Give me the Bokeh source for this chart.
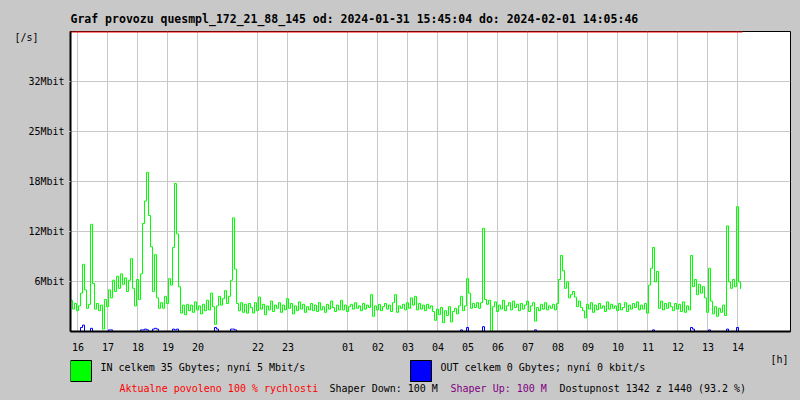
from bokeh.plotting import figure
from bokeh.layouts import column
from bokeh.models import FixedTicker, Range1d, LinearAxis
from bokeh.core.properties import value
from bokeh.embed import file_html
from bokeh.resources import INLINE

# ---------------- data ----------------
TITLE = "Graf provozu quesmpl_172_21_88_145 od: 2024-01-31 15:45:04 do: 2024-02-01 14:05:46"
START_HOUR = 15 + 45 / 60 + 4 / 3600      # 2024-01-31 15:45:04, hours since 2024-01-31 00:00
STEP_MIN = 4                              # one sample every 4 minutes

# IN traffic [Mbit/s], one row per hour starting at 15:45
in_mbit = [
    3.9, 2.8, 3.5, 2.6, 3.2, 4.8, 8.4, 5.2, 2.9, 3.4, 13.4, 6.0, 2.8, 3.5, 2.6,    # 15:45
    3.3, 0.3, 4.0, 3.1, 5.2, 4.2, 6.4, 5.0, 6.9, 5.4, 7.2, 5.9, 6.7, 5.0, 6.4,     # 16:45
    9.1, 5.4, 3.2, 6.5, 4.0, 7.2, 13.5, 16.3, 19.9, 14.5, 10.6, 5.0, 9.6, 4.2, 2.9,  # 17:45
    3.6, 2.9, 4.4, 3.5, 6.6, 5.8, 10.5, 18.5, 12.2, 5.6, 2.3, 3.3, 2.1, 3.4, 2.6,  # 18:45
    3.3, 2.4, 3.7, 2.7, 3.2, 2.2, 3.4, 2.6, 3.9, 2.7, 4.8, 3.1, 0.9, 3.2, 4.4,     # 19:45
    3.3, 4.1, 5.1, 3.5, 4.4, 6.4, 14.2, 7.8, 3.5, 2.6, 3.6, 2.4, 3.4, 2.3, 3.5,    # 20:45
    3.0, 2.3, 3.6, 2.6, 4.3, 2.8, 3.4, 2.1, 3.2, 2.7, 3.8, 2.5, 3.3, 2.9, 3.6,     # 21:45
    2.4, 3.3, 2.7, 4.1, 2.9, 3.5, 2.2, 3.2, 2.6, 3.7, 2.8, 3.4, 2.4, 3.1, 2.7,     # 22:45
    3.5, 2.6, 3.3, 2.5, 3.6, 2.7, 3.1, 2.4, 3.4, 2.8, 3.8, 3.0, 2.5, 3.3, 2.7,     # 23:45
    3.9, 2.7, 3.3, 2.5, 3.1, 3.4, 2.8, 3.6, 2.9, 3.2, 2.6, 3.5, 2.8, 3.3, 3.0,     # 00:45
    4.6, 1.9, 3.2, 2.7, 3.4, 2.6, 3.1, 3.5, 2.8, 3.3, 2.5, 3.6, 4.6, 2.4, 3.2,     # 01:45
    2.9, 3.4, 2.7, 3.6, 2.9, 4.2, 3.3, 4.4, 2.7, 3.5, 2.8, 3.3, 2.6, 3.4, 2.9,     # 02:45
    3.2, 2.5, 1.4, 2.8, 2.1, 3.0, 1.1, 2.6, 2.0, 3.1, 1.2, 2.5, 2.9, 2.2, 3.2,     # 03:45
    4.4, 2.6, 3.2, 6.6, 4.8, 2.9, 3.5, 3.0, 3.6, 2.9, 3.6, 12.9, 4.0, 3.4, 3.9,    # 04:45
    0.0, 3.1, 3.7, 2.5, 3.3, 2.8, 3.9, 2.6, 3.2, 3.6, 2.7, 3.8, 3.0, 3.4, 2.6,     # 05:45
    3.5, 2.8, 3.3, 3.8, 2.5, 3.2, 3.6, 1.3, 3.0, 2.6, 3.4, 2.8, 3.6, 2.7, 3.2,     # 06:45
    2.9, 3.4, 2.7, 3.5, 6.5, 9.5, 7.6, 5.4, 6.2, 4.2, 4.6, 5.0, 4.3, 3.1, 3.8,     # 07:45
    3.0, 2.6, 1.7, 3.4, 2.8, 3.6, 2.4, 3.3, 2.7, 3.5, 2.9, 3.2, 2.5, 3.7, 2.8,     # 08:45
    3.4, 2.9, 3.2, 2.6, 3.5, 2.7, 3.0, 3.6, 2.5, 3.3, 2.8, 3.5, 3.0, 3.7, 2.7,     # 09:45
    3.3, 2.8, 3.5, 2.3, 5.8, 7.9, 10.5, 6.2, 7.5, 2.9, 3.8, 2.7, 3.5, 2.9, 3.6,    # 10:45
    3.1, 2.6, 3.5, 2.8, 3.4, 2.5, 3.7, 2.4, 3.2, 2.7, 9.5, 5.6, 6.5, 4.6, 5.9,     # 11:45
    4.8, 5.6, 4.2, 2.4, 7.9, 3.8, 2.2, 3.1, 1.9, 2.9, 2.4, 3.3, 2.0, 13.2, 6.2,    # 12:45
    5.4, 6.5, 5.6, 15.6, 6.2, 5.3,                                                 # 13:45
]

# OUT traffic [Mbit/s]
out_mbit = [
    0, 0, 0, 0, 0, 0.5, 0.8, 0, 0, 0, 0.4, 0, 0, 0, 0,
    0, 0, 0, 0, 0.2, 0.2, 0, 0, 0, 0, 0, 0, 0, 0, 0,
    0, 0, 0, 0, 0, 0.2, 0.2, 0.3, 0.2, 0, 0, 0.3, 0.4, 0.3, 0,
    0, 0, 0, 0, 0, 0, 0.3, 0.2, 0.3, 0, 0, 0, 0, 0, 0,
    0, 0, 0, 0, 0, 0, 0, 0, 0, 0, 0, 0, 0.5, 0.3, 0,
    0, 0, 0, 0, 0, 0.3, 0.3, 0.2, 0, 0, 0, 0, 0, 0, 0,
    0, 0, 0, 0, 0, 0, 0, 0, 0, 0, 0, 0, 0, 0, 0,
    0, 0, 0, 0, 0, 0, 0, 0, 0, 0, 0, 0, 0, 0, 0,
    0, 0, 0, 0, 0, 0, 0, 0, 0, 0, 0, 0, 0, 0, 0,
    0, 0, 0, 0, 0, 0, 0, 0, 0, 0, 0, 0, 0, 0, 0,
    0, 0, 0, 0, 0, 0, 0, 0, 0, 0, 0, 0, 0, 0, 0,
    0, 0, 0, 0, 0, 0, 0, 0, 0, 0, 0, 0, 0, 0, 0,
    0, 0, 0, 0, 0, 0, 0, 0, 0, 0, 0, 0, 0, 0, 0,
    0.2, 0, 0, 0.5, 0, 0, 0, 0, 0, 0, 0, 0.6, 0, 0, 0,
    0, 0, 0, 0, 0, 0, 0, 0, 0, 0, 0, 0, 0, 0, 0,
    0, 0, 0, 0, 0, 0, 0, 0.2, 0, 0, 0, 0, 0, 0, 0,
    0, 0, 0, 0, 0, 0, 0, 0, 0, 0, 0, 0, 0, 0, 0,
    0, 0, 0, 0, 0, 0, 0, 0, 0, 0, 0, 0, 0, 0, 0,
    0, 0, 0, 0, 0, 0, 0, 0, 0, 0, 0, 0, 0, 0, 0,
    0, 0, 0, 0, 0, 0, 0.2, 0, 0, 0, 0, 0, 0, 0, 0,
    0, 0, 0, 0, 0, 0, 0, 0, 0, 0, 0.5, 0.3, 0, 0, 0,
    0, 0, 0, 0, 0.2, 0, 0, 0, 0, 0, 0, 0, 0, 0.3, 0,
    0, 0, 0, 0.5, 0, 0,
]

hour_ticks = [16, 17, 18, 19, 20, 22, 23, 25, 26, 27, 28, 29, 30, 31, 32, 33, 34, 35, 36, 37, 38]
hour_labels = ["16", "17", "18", "19", "20", "22", "23", "01", "02", "03", "04", "05",
               "06", "07", "08", "09", "10", "11", "12", "13", "14"]
y_ticks = [6.25, 12.5, 18.75, 25.0, 31.25]
y_labels = ["6Mbit", "12Mbit", "18Mbit", "25Mbit", "32Mbit"]
Y_TOP = 37.5
Y_UNIT_AT = 36.75          # where the "[/s]" unit label sits on the value axis
LIMIT_MBIT = 100           # shaper limit, clipped at the chart top

legend_texts = ["IN celkem 35 Gbytes; nyní 5 Mbit/s", "OUT celkem 0 Gbytes; nyní 0 kbit/s"]
legend_colors = ["#00ff00", "#0000ff"]
info_texts = ["Aktualne povoleno 100 % rychlosti", "Shaper Down: 100 M",
              "Shaper Up: 100 M", "Dostupnost 1342 z 1440 (93.2 %)"]
info_colors = ["#ff0000", "#000000", "#800080", "#000000"]

# ---------------- layout ----------------
W = 800
FL, FT, FW, FH = 70, 31, 720, 300
H_MAIN = 354
H_FOOT = 400 - H_MAIN
BG = "#c8c8c8"
GRID = "#c8c8c8"
FONT = "DejaVu Sans Mono"

t = [START_HOUR + i * STEP_MIN / 60 for i in range(len(in_mbit))]
X_START, X_END = START_HOUR, START_HOUR + FW / 30.0

p = figure(width=W, height=H_MAIN, output_backend="svg", toolbar_location=None,
           x_range=(X_START, X_END), y_range=(0, Y_TOP),
           min_border_left=FL, min_border_right=W - FL - FW,
           min_border_top=FT, min_border_bottom=H_MAIN - FT - FH)
p.border_fill_color = BG
p.background_fill_color = "white"
p.outline_line_color = "black"
p.outline_line_width = 1

p.title.text = TITLE
p.title.align = "left"
p.title.text_font = FONT
p.title.text_font_size = "11.5px"
p.title.text_font_style = "bold"
p.title.text_color = "black"
p.title.standoff = 11

xa = p.xaxis[0]
xa.ticker = FixedTicker(ticks=hour_ticks)
xa.major_label_overrides = {k: v for k, v in zip(hour_ticks, hour_labels)}
xa.minor_tick_line_color = None
xa.major_tick_out = 0
xa.major_tick_in = 0
xa.axis_line_width = 2
xa.axis_line_color = "black"
xa.major_label_standoff = 11
xa.major_label_text_font = FONT
xa.major_label_text_font_size = "10px"
xa.major_label_text_color = "black"

ya = p.yaxis[0]
ya.ticker = FixedTicker(ticks=y_ticks)
ya.major_label_overrides = {k: v for k, v in zip(y_ticks, y_labels)}
ya.minor_tick_line_color = None
ya.major_tick_out = 6
ya.major_tick_in = 0
ya.major_tick_line_color = GRID
ya.axis_line_width = 2
ya.axis_line_color = "black"
ya.major_label_standoff = 0
ya.major_label_text_font = FONT
ya.major_label_text_font_size = "10px"
ya.major_label_text_color = "black"

# unit label "[/s]" as a one-tick outer axis
ua = LinearAxis(ticker=FixedTicker(ticks=[Y_UNIT_AT]),
                major_label_overrides={Y_UNIT_AT: "[/s]"},
                axis_line_color=None, major_tick_line_color=None, minor_tick_line_color=None,
                major_tick_out=0, major_tick_in=0, major_label_standoff=-13,
                major_label_text_font=FONT, major_label_text_font_size="10px",
                major_label_text_color="black")
p.add_layout(ua, "left")

p.xgrid.grid_line_color = GRID
p.ygrid.grid_line_color = GRID
p.ygrid.ticker = FixedTicker(ticks=y_ticks)

p.step(t, in_mbit, mode="after", line_color="#00ff00", line_width=1)
p.step(t, out_mbit, mode="after", line_color="#0000ff", line_width=1)
lim = min(LIMIT_MBIT, Y_TOP)
p.line([t[0], t[-1] + STEP_MIN / 60], [lim, lim], line_color="#ff0000", line_width=2)

# ---------------- footer (hour unit, legend, info line) ----------------
q = figure(width=W, height=H_FOOT, output_backend="svg", toolbar_location=None,
           x_range=Range1d(FL, FL + FW), y_range=Range1d(H_FOOT, 0),
           x_axis_type=None, y_axis_type=None,
           min_border_left=FL, min_border_right=W - FL - FW, min_border_top=0, min_border_bottom=0)
q.border_fill_color = BG
q.background_fill_color = None
q.outline_line_color = None
q.grid.visible = False

q.text(x=[770], y=[5], text=["[h]"], text_font=value(FONT), text_font_size="10px",
       text_color="black", text_baseline="middle")
q.quad(left=[70, 410], right=[91, 431], top=[6, 6], bottom=[27, 27],
       fill_color=legend_colors, line_color="black", line_width=1)
q.text(x=[100, 440], y=[13, 13], text=legend_texts, text_font=value(FONT),
       text_font_size="10px", text_color="black", text_baseline="middle")
q.text(x=[119, 329, 450, 559], y=[33.5] * 4, text=info_texts, text_font=value(FONT),
       text_font_size="10px", text_color=info_colors, text_baseline="middle")

layout = column(p, q, spacing=0, styles={"background-color": BG})
open("out.html", "w").write(file_html(layout, INLINE))
